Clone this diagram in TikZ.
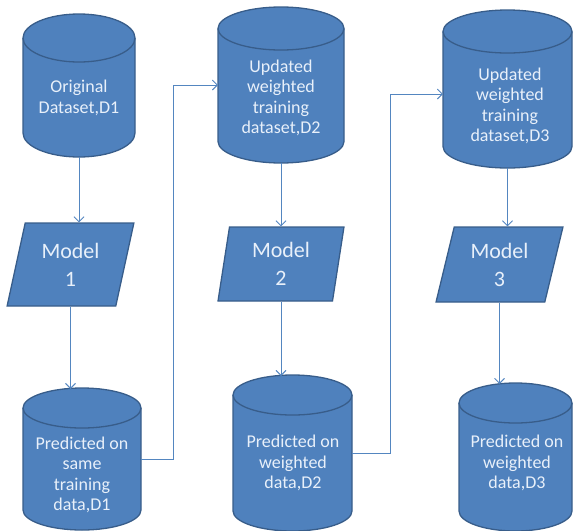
\documentclass[tikz,border=0pt]{standalone}
\usepackage{fontspec}
\setmainfont{Carlito}
\usetikzlibrary{shapes.geometric,arrows.meta,positioning}

\definecolor{boxblue}{RGB}{79,129,189}
\definecolor{edgeblue}{RGB}{56,93,138}
\definecolor{lineblue}{RGB}{84,134,192}
\definecolor{paleblue}{RGB}{232,240,250}

\tikzset{
  dbbox/.style={rectangle, inner sep=0pt, outer sep=0pt},
  dbline/.style={draw=edgeblue, line width=1.3pt, line join=round},
  dbtext/.style={text=paleblue, align=center, inner sep=0pt,
    font=\fontsize{18}{20.5}\selectfont},
  model/.style={trapezium, trapezium stretches=true, draw=edgeblue,
    line width=1.3pt, fill=boxblue, text=paleblue, align=center, inner sep=0pt,
    font=\fontsize{22}{28}\selectfont},
  flow/.style={draw=lineblue, line width=0.9pt}
}

% drum drawn round an empty box node: name, half width, end radius
\newcommand{\drawdb}[3]{%
  \fill[boxblue] ([yshift=-#3]#1.north west) -- ([yshift=#3]#1.south west)
    arc[start angle=180, end angle=360, x radius=#2, y radius=#3]
    -- ([yshift=-#3]#1.north east)
    arc[start angle=0, end angle=180, x radius=#2, y radius=#3] -- cycle;
  \draw[dbline] ([yshift=-#3]#1.north west) -- ([yshift=#3]#1.south west)
    arc[start angle=180, end angle=360, x radius=#2, y radius=#3]
    -- ([yshift=-#3]#1.north east);
  \draw[dbline] ([yshift=-#3]#1.north) ellipse [x radius=#2, y radius=#3];
}

\begin{document}
\begin{tikzpicture}[x=1pt,y=-1pt,>={Straight Barb[length=5pt,width=10pt]}]
    \useasboundingbox (0,0) rectangle (574,531);
    % datasets on top
    \node[dbbox, minimum width=112, minimum height=143] (d1) at (79,85.5) {};
    \node[dbbox, minimum width=126, minimum height=156] (d2) at (281,85) {};
    \node[dbbox, minimum width=129, minimum height=158] (d3) at (507.5,89) {};
    \drawdb{d1}{56pt}{24pt}
    \drawdb{d2}{63pt}{21.5pt}
    \drawdb{d3}{64.5pt}{21.5pt}
    \node[dbtext] (d1t) at (79,98) {Original\\Dataset,D1};
    \node[dbtext] (d2t) at (281,98) {Updated\\weighted\\training\\dataset,D2};
    \node[dbtext] (d3t) at (510,106) {Updated\\weighted\\training\\dataset,D3};
    % models
    \node[model, trapezium left angle=75, trapezium right angle=105,
      minimum width=127, minimum height=83] (m1) at (70.5,264.5) {Model\\1};
    \node[model, trapezium left angle=81.5, trapezium right angle=98.5,
      minimum width=126, minimum height=74] (m2) at (281,264) {Model\\2};
    \node[model, trapezium left angle=75, trapezium right angle=105,
      minimum width=127, minimum height=75] (m3) at (499.5,264.5) {Model\\3};
    % predictions
    \node[dbbox, minimum width=118, minimum height=142] (p1) at (82,459) {};
    \node[dbbox, minimum width=119, minimum height=156] (p2) at (292.5,453) {};
    \node[dbbox, minimum width=113, minimum height=148] (p3) at (515.5,457) {};
    \drawdb{p1}{59pt}{20pt}
    \drawdb{p2}{59.5pt}{20pt}
    \drawdb{p3}{56.5pt}{20pt}
    \node[dbtext] (p1t) at (82,475) {Predicted on\\same\\training\\data,D1};
    \node[dbtext] (p2t) at (293,463) {Predicted on\\weighted\\data,D2};
    \node[dbtext] (p3t) at (517,463) {Predicted on\\weighted\\data,D3};

    \draw[flow,->] (d1.south) -- (d1.south |- m1.north);
    \draw[flow,->] (d2.south) -- (d2.south |- m2.north);
    \draw[flow,->] (d3.south) -- (d3.south |- m3.north);
    \draw[flow,->] (m1.south) -- ([yshift=-1pt]m1.south |- p1.north);
    \draw[flow,->] (m2.south) -- ([yshift=-1pt]m2.south |- p2.north);
    \draw[flow,->] (m3.south) -- ([yshift=-1pt]m3.south |- p3.north);
    \draw[flow,->] (p1.east) -- ++(32,0) |- (d2.west);
    \draw[flow,->] (p2.east) -- ++(38,0) |- ([yshift=-5pt]d3.west);
\end{tikzpicture}
\end{document}
